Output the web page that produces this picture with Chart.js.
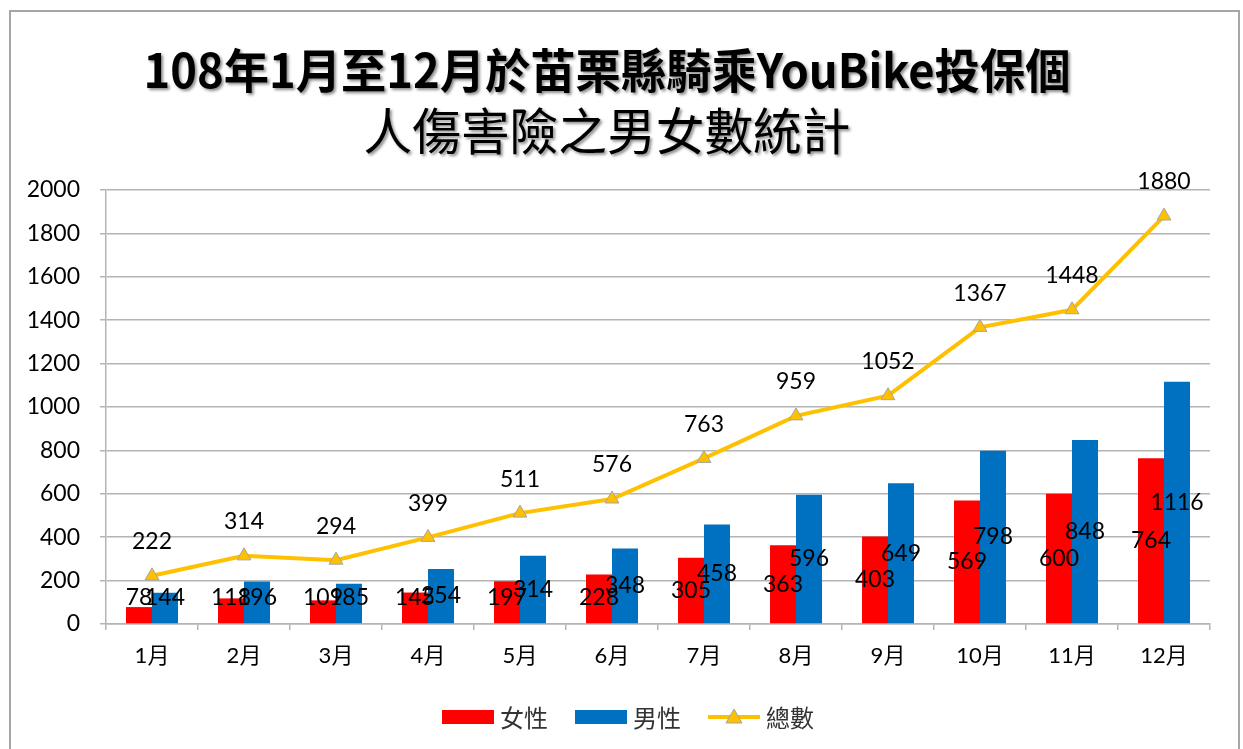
<!DOCTYPE html>
<html>
<head>
<meta charset="utf-8">
<script src="https://cdn.jsdelivr.net/npm/chart.js@4/dist/chart.umd.min.js"></script>
<style>
  body { margin: 0; background: #fff; }
</style>
</head>
<body>
<canvas id="chart" width="1243" height="749"></canvas>
<script>
const months = ['1月', '2月', '3月', '4月', '5月', '6月', '7月', '8月', '9月', '10月', '11月', '12月'];
const female = [78, 118, 109, 145, 197, 228, 305, 363, 403, 569, 600, 764];
const male = [144, 196, 185, 254, 314, 348, 458, 596, 649, 798, 848, 1116];
const total = [222, 314, 294, 399, 511, 576, 763, 959, 1052, 1367, 1448, 1880];
const seriesNames = ['女性', '男性', '總數'];
const titleLines = ['108年1月至12月於苗栗縣騎乘YouBike投保個', '人傷害險之男女數統計'];

const numFont = '23px Lato, "Noto Sans CJK TC", sans-serif';
const gridColor = '#b4b4b4';

// background + outer frame
const frame = {
    id: 'frame',
    beforeDraw(chart) {
        const ctx = chart.ctx;
        ctx.save();
        ctx.fillStyle = '#fff';
        ctx.fillRect(0, 0, chart.width, chart.height);
        ctx.strokeStyle = '#a6a6a6';
        ctx.lineWidth = 2;
        ctx.strokeRect(10, 11, 1229, chart.height + 10);
        ctx.restore();
    }
};

// title with drop shadow
const shadowTitle = {
    id: 'shadowTitle',
    afterDraw(chart) {
        const ctx = chart.ctx;
        ctx.save();
        ctx.fillStyle = '#000';
        ctx.textAlign = 'center';
        ctx.textBaseline = 'middle';
        ctx.shadowColor = 'rgba(0,0,0,0.45)';
        ctx.shadowOffsetX = 2;
        ctx.shadowOffsetY = 2;
        ctx.shadowBlur = 3;
        ctx.font = 'bold 47px "Noto Sans CJK TC", sans-serif';
        ctx.fillText(titleLines[0], 607, 70, 927);
        ctx.font = '50px "Noto Sans CJK TC", sans-serif';
        ctx.fillText(titleLines[1], 607, 131, 487);
        ctx.restore();
    }
};

// value labels on bars and line points
const valueLabels = {
    id: 'valueLabels',
    afterDatasetsDraw(chart) {
        const ctx = chart.ctx;
        ctx.save();
        ctx.font = numFont;
        ctx.fillStyle = '#000';
        ctx.textAlign = 'center';
        ctx.textBaseline = 'middle';
        chart.data.datasets.forEach((ds, i) => {
            const meta = chart.getDatasetMeta(i);
            meta.data.forEach((el, j) => {
                let y;
                if (ds.type === 'line') {
                    y = el.y - 34;
                } else {
                    y = Math.min((el.y + el.base) / 2, el.base - 26);
                }
                ctx.fillText(ds.data[j], el.x, y);
            });
        });
        ctx.restore();
    }
};

// legend drawn by hand so the line entry gets a line + triangle
const customLegend = {
    id: 'customLegend',
    afterDraw(chart) {
        const ctx = chart.ctx;
        ctx.save();
        ctx.font = '24px "Noto Sans CJK TC", sans-serif';
        ctx.textBaseline = 'middle';
        const sw = 52, gap = 6, itemGap = 27;
        const items = chart.data.datasets.map(ds => ({
            ds,
            w: sw + gap + ctx.measureText(ds.label).width
        }));
        let totalW = items.reduce((s, it) => s + it.w, 0) + itemGap * (items.length - 1);
        let x = 628 - totalW / 2;
        const y = 717;
        items.forEach(it => {
            const ds = it.ds;
            if (ds.type === 'line') {
                ctx.strokeStyle = ds.borderColor;
                ctx.lineWidth = 4;
                ctx.beginPath();
                ctx.moveTo(x, y);
                ctx.lineTo(x + sw, y);
                ctx.stroke();
                ctx.beginPath();
                ctx.moveTo(x + sw / 2, y - 8);
                ctx.lineTo(x + sw / 2 + 8, y + 6);
                ctx.lineTo(x + sw / 2 - 8, y + 6);
                ctx.closePath();
                ctx.fillStyle = ds.pointBackgroundColor;
                ctx.fill();
                ctx.strokeStyle = ds.pointBorderColor;
                ctx.lineWidth = 1;
                ctx.stroke();
            } else {
                ctx.fillStyle = ds.backgroundColor;
                ctx.fillRect(x, y - 7, sw, 14);
            }
            ctx.fillStyle = '#333';
            ctx.textAlign = 'left';
            ctx.fillText(ds.label, x + sw + gap, y + 1);
            x += it.w + itemGap;
        });
        ctx.restore();
    }
};

new Chart(document.getElementById('chart'), {
    data: {
        labels: months,
        datasets: [
            {
                type: 'bar',
                label: seriesNames[0],
                data: female,
                backgroundColor: '#ff0000',
                categoryPercentage: 0.565,
                barPercentage: 1,
                order: 1
            },
            {
                type: 'bar',
                label: seriesNames[1],
                data: male,
                backgroundColor: '#0070c0',
                categoryPercentage: 0.565,
                barPercentage: 1,
                order: 1
            },
            {
                type: 'line',
                label: seriesNames[2],
                data: total,
                borderColor: '#ffc000',
                backgroundColor: '#ffc000',
                borderWidth: 4,
                pointStyle: 'triangle',
                pointRadius: 8,
                pointHoverRadius: 8,
                pointBackgroundColor: '#ffc000',
                pointBorderColor: '#a5a5a5',
                pointBorderWidth: 1,
                tension: 0,
                order: 0
            }
        ]
    },
    options: {
        responsive: false,
        animation: false,
        layout: {
            padding: { left: 0, top: 190, right: 33, bottom: 75 }
        },
        scales: {
            x: {
                afterFit: scale => { scale.height = 50; },
                grid: {
                    offset: true,
                    drawOnChartArea: false,
                    drawTicks: true,
                    tickLength: 6,
                    color: gridColor,
                    lineWidth: 1.5
                },
                border: { color: gridColor, width: 1.5 },
                ticks: {
                    color: '#000',
                    font: { family: 'Lato, "Noto Sans CJK TC", sans-serif', size: 22 },
                    padding: 13
                }
            },
            y: {
                min: 0,
                max: 2000,
                afterFit: scale => { scale.width = 106; },
                ticks: {
                    stepSize: 200,
                    color: '#000',
                    font: { family: 'Lato, sans-serif', size: 23 },
                    padding: 20,
                    callback: v => String(v)
                },
                grid: {
                    color: gridColor,
                    lineWidth: 1.5,
                    tickLength: 6
                },
                border: { color: gridColor, width: 1.5 }
            }
        },
        plugins: {
            legend: { display: false },
            title: { display: false },
            tooltip: { enabled: false }
        }
    },
    plugins: [frame, shadowTitle, valueLabels, customLegend]
});
</script>
</body>
</html>
